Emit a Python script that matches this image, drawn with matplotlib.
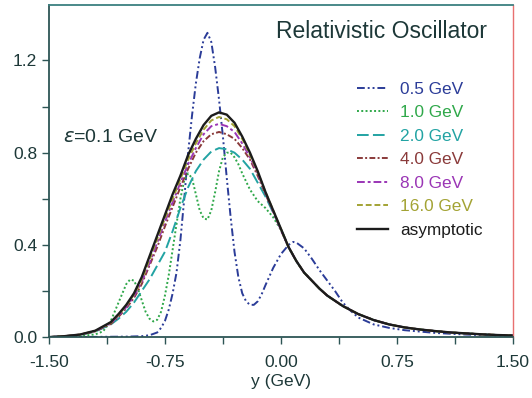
import matplotlib
matplotlib.use("Agg")
import matplotlib.pyplot as plt
from matplotlib.ticker import FixedLocator

plt.rcParams['font.family'] = ['Liberation Sans', 'DejaVu Sans']

# Datos
x_suave = [-1.5, -1.4, -1.3, -1.2, -1.1, -1.05, -1.0, -0.95, -0.9, -0.85, -0.8, -0.75,
           -0.7, -0.65, -0.6, -0.55, -0.5, -0.45, -0.4, -0.35, -0.3, -0.25, -0.2, -0.15,
           -0.1, -0.05, 0.0, 0.05, 0.1, 0.15, 0.2, 0.25, 0.3, 0.4, 0.5, 0.6, 0.7, 0.8,
           0.9, 1.0, 1.1, 1.2, 1.3, 1.4, 1.5]

asintotico = [0.0, 0.004, 0.011, 0.028, 0.065, 0.10, 0.14, 0.19, 0.26, 0.35, 0.44, 0.53,
              0.62, 0.70, 0.79, 0.86, 0.92, 0.96, 0.975, 0.965, 0.93, 0.87, 0.80, 0.72,
              0.63, 0.55, 0.47, 0.39, 0.33, 0.28, 0.245, 0.21, 0.18, 0.135, 0.10, 0.074,
              0.055, 0.042, 0.033, 0.026, 0.02, 0.016, 0.012, 0.009, 0.007]

e16 = [0.0, 0.004, 0.011, 0.027, 0.063, 0.097, 0.136, 0.185, 0.25, 0.335, 0.425, 0.515,
       0.60, 0.685, 0.77, 0.84, 0.90, 0.94, 0.955, 0.945, 0.915, 0.86, 0.79, 0.715,
       0.63, 0.55, 0.47, 0.39, 0.33, 0.28, 0.245, 0.21, 0.18, 0.135, 0.10, 0.074,
       0.055, 0.042, 0.033, 0.026, 0.02, 0.016, 0.012, 0.009, 0.007]

e8 = [0.0, 0.004, 0.011, 0.026, 0.06, 0.093, 0.13, 0.178, 0.24, 0.32, 0.41, 0.50,
      0.585, 0.67, 0.75, 0.82, 0.88, 0.915, 0.925, 0.915, 0.89, 0.84, 0.78, 0.71,
      0.625, 0.545, 0.465, 0.39, 0.33, 0.28, 0.245, 0.21, 0.18, 0.135, 0.10, 0.074,
      0.055, 0.042, 0.033, 0.026, 0.02, 0.016, 0.012, 0.009, 0.007]

e4 = [0.0, 0.004, 0.01, 0.025, 0.057, 0.088, 0.125, 0.17, 0.23, 0.31, 0.39, 0.48,
      0.565, 0.65, 0.73, 0.80, 0.85, 0.88, 0.89, 0.88, 0.86, 0.82, 0.77, 0.70,
      0.62, 0.545, 0.465, 0.39, 0.33, 0.28, 0.245, 0.21, 0.18, 0.135, 0.10, 0.074,
      0.055, 0.042, 0.033, 0.026, 0.02, 0.016, 0.012, 0.009, 0.007]

e2 = [0.0, 0.004, 0.01, 0.024, 0.055, 0.08, 0.11, 0.15, 0.2, 0.25, 0.31, 0.37,
      0.46, 0.56, 0.65, 0.72, 0.77, 0.805, 0.82, 0.815, 0.80, 0.77, 0.73, 0.67,
      0.61, 0.54, 0.47, 0.39, 0.33, 0.28, 0.245, 0.21, 0.18, 0.135, 0.10, 0.074,
      0.055, 0.042, 0.033, 0.026, 0.02, 0.016, 0.012, 0.009, 0.007]

x_e1 = [-1.5, -1.3, -1.2, -1.15, -1.1, -1.05, -1.0, -0.975, -0.95, -0.925, -0.9, -0.875,
        -0.85, -0.825, -0.8, -0.775, -0.75, -0.725, -0.7, -0.675, -0.65, -0.625, -0.6,
        -0.575, -0.55, -0.525, -0.5, -0.475, -0.45, -0.425, -0.4, -0.375, -0.35, -0.325,
        -0.3, -0.275, -0.25, -0.2, -0.15, -0.1, -0.05, 0.0, 0.05, 0.1, 0.15, 0.2, 0.25,
        0.3, 0.4, 0.5, 0.6, 0.7, 0.8, 0.9, 1.0, 1.1, 1.2, 1.3, 1.4, 1.5]
e1 = [0.0, 0.004, 0.012, 0.025, 0.07, 0.15, 0.23, 0.25, 0.245, 0.21, 0.16, 0.11,
      0.08, 0.068, 0.075, 0.11, 0.18, 0.27, 0.38, 0.49, 0.60, 0.68, 0.71,
      0.69, 0.62, 0.55, 0.515, 0.51, 0.55, 0.63, 0.72, 0.78, 0.80, 0.80,
      0.78, 0.75, 0.71, 0.64, 0.59, 0.56, 0.52, 0.465, 0.39, 0.33, 0.28, 0.245, 0.21,
      0.18, 0.135, 0.10, 0.074, 0.055, 0.042, 0.033, 0.026, 0.02, 0.016, 0.012, 0.009, 0.007]

x_e05 = [-1.5, -1.2, -1.0, -0.9, -0.85, -0.8, -0.775, -0.75, -0.725, -0.7, -0.675, -0.65,
         -0.625, -0.6, -0.575, -0.55, -0.525, -0.5, -0.475, -0.45, -0.425, -0.4, -0.375,
         -0.35, -0.325, -0.3, -0.275, -0.25, -0.225, -0.2, -0.175, -0.15, -0.125, -0.1,
         -0.05, 0.0, 0.05, 0.08, 0.1, 0.15, 0.2, 0.25, 0.3, 0.35, 0.4, 0.45, 0.5, 0.6,
         0.7, 0.8, 1.0, 1.2, 1.5]
e05 = [0.0, 0.001, 0.002, 0.004, 0.008, 0.02, 0.04, 0.07, 0.12, 0.19, 0.28, 0.42,
       0.60, 0.80, 0.96, 1.10, 1.21, 1.29, 1.32, 1.28, 1.17, 1.03, 0.87,
       0.69, 0.52, 0.37, 0.26, 0.19, 0.155, 0.14, 0.14, 0.155, 0.185, 0.225,
       0.30, 0.36, 0.40, 0.413, 0.41, 0.385, 0.34, 0.29, 0.245, 0.20, 0.15, 0.115, 0.085, 0.055,
       0.04, 0.03, 0.018, 0.011, 0.005]

etiquetas = ['0.5 GeV', '1.0 GeV', '2.0 GeV', '4.0 GeV', '8.0 GeV', '16.0 GeV', 'asymptotic']
colores = ['#2b3c98', '#2fa84a', '#22a3a3', '#8a3a3a', '#9a35b5', '#a3a334', '#1c1c1c']
estilos = [(0, (4, 1.5, 1, 1.5, 1, 1.5)), (0, (1, 1.2)), (0, (6, 2.2)),
           (0, (3, 1.2, 1, 1.2)), (0, (4, 1.5, 1.5, 1.5)), (0, (3, 1.5)), '-']

fig = plt.figure(figsize=(5.32, 3.98), dpi=100)
ax = fig.add_axes([0.092, 0.153, 0.872, 0.834])

series = [(x_e05, e05), (x_e1, e1), (x_suave, e2), (x_suave, e4),
          (x_suave, e8), (x_suave, e16), (x_suave, asintotico)]
for (xs, ys), lab, col, ls in zip(series, etiquetas, colores, estilos):
    lw = 1.7 if ls == '-' else 1.4
    ax.plot(xs, ys, color=col, linestyle=ls, linewidth=lw, label=lab)

ax.set_xlim(-1.5, 1.5)
ax.set_ylim(0, 1.44)
ax.xaxis.set_major_locator(FixedLocator([-1.5, -0.75, 0.0, 0.75, 1.5]))
ax.xaxis.set_minor_locator(FixedLocator([-1.125, -0.375, 0.375, 1.125]))
ax.yaxis.set_major_locator(FixedLocator([0.0, 0.4, 0.8, 1.2]))
ax.yaxis.set_minor_locator(FixedLocator([0.2, 0.6, 1.0]))
ax.set_xticklabels(['-1.50', '-0.75', '0.00', '0.75', '1.50'])
ax.set_yticklabels(['0.0', '0.4', '0.8', '1.2'])

color_texto = '#1d3838'
ax.tick_params(which='both', direction='out', length=5, width=1, color='#2d5555',
               labelsize=12.5, labelcolor=color_texto)
ax.tick_params(axis='x', pad=8)
for lado in ['left', 'bottom']:
    ax.spines[lado].set_color('#2d5555')
    ax.spines[lado].set_linewidth(1.3)
ax.spines['top'].set_color('#3c8080')
ax.spines['top'].set_linewidth(1.3)
ax.spines['right'].set_color('#e87070')
ax.spines['right'].set_linewidth(1.0)

ax.set_xlabel('y (GeV)', fontsize=12.5, color=color_texto, labelpad=3)

ax.text(0.716, 0.92, 'Relativistic Oscillator', transform=ax.transAxes,
        fontsize=16.5, color=color_texto, ha='center', va='center')
ax.text(0.03, 0.60, r'$\varepsilon$=0.1 GeV', transform=ax.transAxes,
        fontsize=14, color=color_texto, ha='left', va='center')

leg = ax.legend(loc='upper left', bbox_to_anchor=(0.664, 0.77), frameon=False,
                fontsize=12.4, handlelength=1.8, handletextpad=0.7, labelspacing=0.49,
                borderaxespad=0, borderpad=0)
for texto, col in zip(leg.get_texts(), colores):
    texto.set_color(col)

fig.savefig('out.png', dpi=100)
